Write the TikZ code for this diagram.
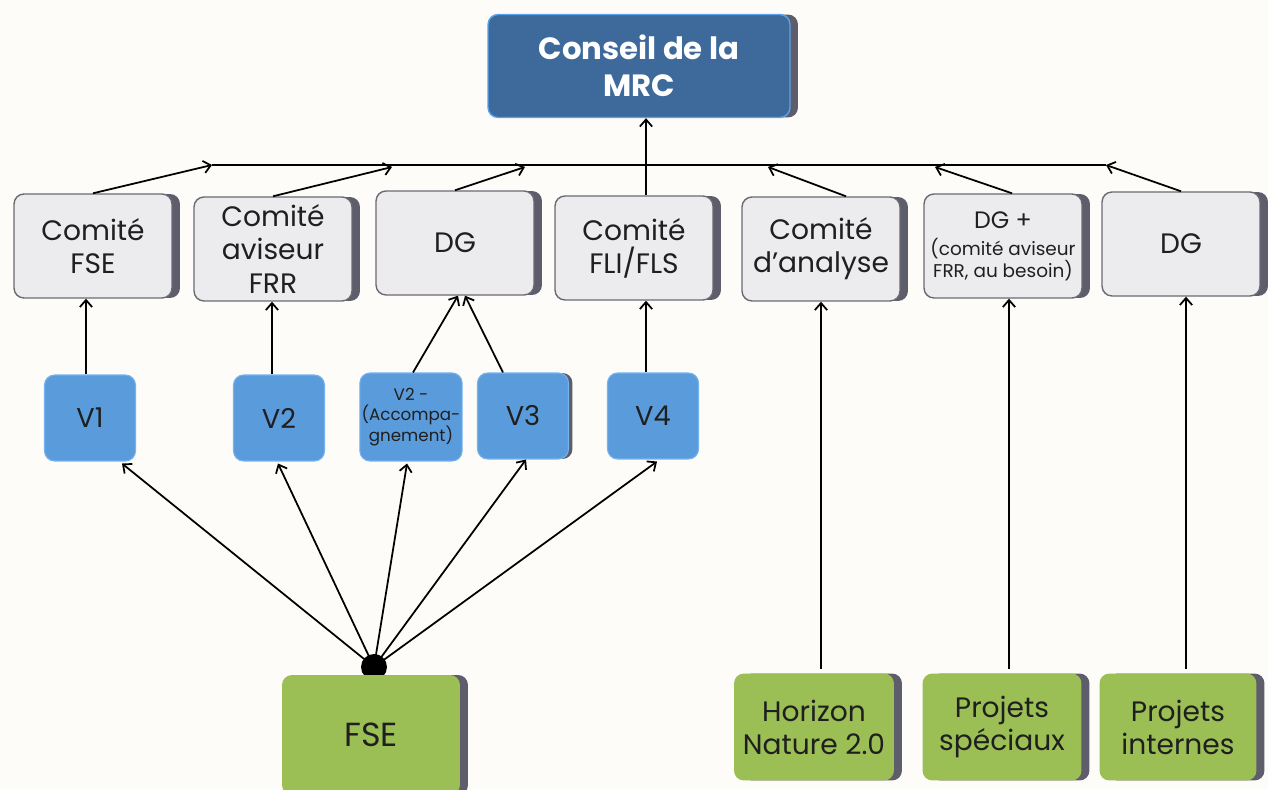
\documentclass[tikz,border=0pt]{standalone}
\usepackage{fontspec}
\setmainfont{Poppins}
\usetikzlibrary{arrows.meta,shadows,calc}

\definecolor{bgcol}{HTML}{FDFCF8}
\definecolor{topfill}{HTML}{3E6A9B}
\definecolor{topborder}{HTML}{5AA2EA}
\definecolor{greyfill}{HTML}{ECECEE}
\definecolor{greyborder}{HTML}{6A6A72}
\definecolor{shadowcol}{HTML}{5E5D6B}
\definecolor{vfill}{HTML}{5A9BDB}
\definecolor{vborder}{HTML}{74B3F0}
\definecolor{greenfill}{HTML}{9BBE55}
\definecolor{textdark}{HTML}{1F1F1F}

\begin{document}
\begin{tikzpicture}[x=0.02cm,y=-0.02cm,
    boxshadow/.style={drop shadow={shadow xshift=0.16cm, shadow yshift=0cm, fill=shadowcol, opacity=1}},
    topbox/.style={draw=topborder, line width=0.8pt, fill=topfill, rounded corners=0.2cm, boxshadow,
        minimum width=6.04cm, minimum height=2.06cm, align=center, text=white,
        font=\fontsize{17.5}{21}\selectfont\bfseries},
    greybox/.style={draw=greyborder, line width=0.8pt, fill=greyfill, rounded corners=0.2cm, boxshadow,
        minimum width=3.16cm, minimum height=2.08cm, align=center, text=textdark, inner sep=1pt,
        font=\fontsize{16}{18.8}\selectfont},
    vbox/.style={draw=vborder, line width=0.6pt, fill=vfill, rounded corners=0.2cm,
        minimum width=1.82cm, minimum height=1.72cm, align=center, text=textdark, inner sep=1pt,
        font=\fontsize{15.5}{18}\selectfont},
    greenbox/.style={fill=greenfill, rounded corners=0.2cm, boxshadow,
        minimum height=2.14cm, align=center, text=textdark,
        font=\fontsize{16}{18.8}\selectfont},
    link/.style={-{Straight Barb[length=4pt,width=7pt]}, line width=1pt}]

    % Background
    \useasboundingbox (0,0) rectangle (1268,790);
    \clip (0,0) rectangle (1268,790);
    \fill[bgcol] (0,0) rectangle (1268,790);

    % Conseil
    \node[topbox] (conseil) at (639,66) {Conseil de la\\MRC};

    % Comités
    \node[greybox] (comfse) at (93,246) {Comité\\FSE};
    \node[greybox] (comfrr) at (273,249) {Comité\\aviseur\\FRR};
    \node[greybox] (dga) at (455,243) {DG};
    \node[greybox] (comfli) at (634,248) {Comité\\FLI/FLS};
    \node[greybox] (comana) at (821,249) {Comité\\d’analyse};
    \node[greybox, font=\fontsize{10.5}{12.5}\selectfont] (dgplus) at (1003,246)
        {{\fontsize{13.5}{15}\selectfont DG +}\\[3pt](comité aviseur\\FRR, au besoin)};
    \node[greybox] (dgb) at (1181,244) {DG};

    % Volets
    \node[vbox] (v1) at (90,418) {V1};
    \node[vbox] (v2) at (279,418) {V2};
    \node[vbox, minimum width=1.98cm, minimum height=1.76cm, font=\fontsize{9.5}{11.8}\selectfont] (vacc) at (411,417)
        {V2 -\\(Accompa-\\gnement)};
    \node[vbox, drop shadow={shadow xshift=0.08cm, shadow yshift=0cm, fill=shadowcol, opacity=1}] (v3) at (523,416) {V3};
    \node[vbox] (v4) at (653,416) {V4};

    % Fonds
    \node[circle, fill=black, minimum size=0.52cm, inner sep=0pt] (hub) at (374,667) {};
    \node[greenbox, minimum width=3.56cm, minimum height=2.4cm, font=\fontsize{19}{22}\selectfont] (fse) at (371,735) {FSE};
    \node[greenbox, minimum width=3.2cm] (hor) at (814,727) {Horizon\\Nature 2.0};
    \node[greenbox, minimum width=3.18cm] (spe) at (1002,727) {Projets\\spéciaux};
    \node[greenbox, minimum width=3.14cm] (int) at (1178,727) {Projets\\internes};

    % Bus
    \coordinate (busl) at (212,165);
    \coordinate (bus2) at (392,167);
    \coordinate (bus3) at (525,167);
    \coordinate (bus5) at (768,167);
    \coordinate (bus6) at (935,167);
    \coordinate (busr) at (1106,165);
    \draw[line width=1pt] (busl) -- (busr);

    % Comités vers le bus
    \draw[link] (comfse.north) -- (busl);
    \draw[link] (comfrr.north) -- (bus2);
    \draw[link] (dga.north) -- (bus3);
    \draw[link] ($(comana.north)+(25,0)$) -- (bus5);
    \draw[link] ($(dgplus.north)+(9,0)$) -- (bus6);
    \draw[link] (dgb.north) -- (busr);
    \draw[link] ($(comfli.north)+(12,0)$) -- ($(conseil.south)+(7,0)$);

    % Volets vers comités
    \draw[link] ($(v1.north)+(-4,0)$) -- ($(comfse.south)+(-7,0)$);
    \draw[link] ($(v2.north)+(-7,0)$) -- ($(comfrr.south)+(-1,0)$);
    \draw[link] ($(vacc.north)+(2,0)$) -- ($(dga.south)+(3,0)$);
    \draw[link] ($(v3.north)+(-20,0)$) -- ($(dga.south)+(10,0)$);
    \draw[link] ($(v4.north)+(-7,0)$) -- ($(comfli.south)+(12,0)$);

    % FSE vers volets
    \draw[link] (hub.center) -- ($(v1.south)+(32,2)$);
    \draw[link] (hub.center) -- ($(v2.south)+(-1,2)$);
    \draw[link] (hub.center) -- ($(vacc.south)+(-4,2)$);
    \draw[link] (hub.center) -- ($(v3.south)+(3,0)$);
    \draw[link] (hub.center) -- ($(v4.south)+(4,2)$);

    % Autres fonds
    \draw[link] ($(hor.north)+(7,-4)$) -- (comana.south);
    \draw[link] ($(spe.north)+(7,-4)$) -- ($(dgplus.south)+(6,0)$);
    \draw[link] ($(int.north)+(8,-4)$) -- ($(dgb.south)+(5,0)$);

\end{tikzpicture}
\end{document}
